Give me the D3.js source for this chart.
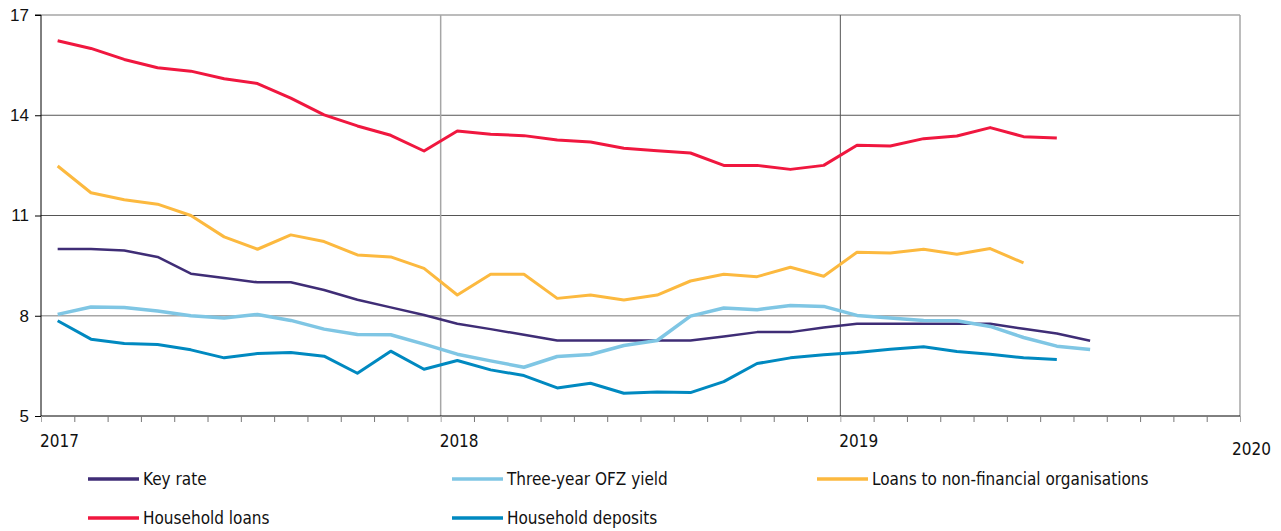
<!DOCTYPE html>
<html>
<head>
<meta charset="utf-8">
<script src="https://cdn.jsdelivr.net/npm/d3@7.9.0/dist/d3.min.js"></script>
<style>
  body { margin: 0; background: #fff; }
  svg { display: block; font-family: "Liberation Sans Narrow", "DejaVu Sans Condensed", sans-serif; }
</style>
</head>
<body>
<svg id="chart" width="1281" height="531"></svg>
<script>
// monthly values, Jan 2017 onwards (mid-month points)
const keyRate = [10.0, 10.0, 9.95, 9.76, 9.26, 9.13, 9.0, 9.0, 8.77, 8.48, 8.25, 8.02,
  7.76, 7.6, 7.43, 7.26, 7.26, 7.26, 7.26, 7.26, 7.38, 7.51, 7.51, 7.65,
  7.76, 7.76, 7.76, 7.76, 7.76, 7.61, 7.47, 7.25];
const ofzYield = [8.04, 8.26, 8.25, 8.14, 8.0, 7.93, 8.04, 7.86, 7.6, 7.44, 7.43, 7.15,
  6.85, 6.65, 6.46, 6.78, 6.84, 7.11, 7.26, 7.99, 8.23, 8.18, 8.31, 8.28,
  8.01, 7.93, 7.86, 7.85, 7.68, 7.35, 7.09, 6.99];
const nfoLoans = [12.48, 11.68, 11.47, 11.34, 11.0, 10.36, 9.99, 10.42, 10.22, 9.82, 9.76, 9.42,
  8.62, 9.24, 9.24, 8.52, 8.62, 8.47, 8.62, 9.04, 9.24, 9.17, 9.45, 9.18,
  9.9, 9.88, 9.99, 9.84, 10.01, 9.58];
const householdLoans = [16.23, 16.0, 15.67, 15.42, 15.32, 15.09, 14.95, 14.51, 14.01, 13.68, 13.4, 12.93,
  13.53, 13.43, 13.39, 13.26, 13.2, 13.01, 12.94, 12.87, 12.5, 12.5, 12.38, 12.5,
  13.1, 13.08, 13.3, 13.38, 13.63, 13.36, 13.32];
const householdDeposits = [7.85, 7.3, 7.17, 7.14, 6.98, 6.74, 6.87, 6.9, 6.79, 6.28, 6.94, 6.4,
  6.66, 6.38, 6.21, 5.84, 5.98, 5.68, 5.72, 5.7, 6.03, 6.57, 6.74, 6.83,
  6.9, 7.0, 7.07, 6.93, 6.85, 6.74, 6.69];

const yTicks = [5, 8, 11, 14, 17];
const years = [2017, 2018, 2019, 2020];

const series = [
  { name: 'Key rate', values: keyRate, color: '#3f2d76', width: 2.5 },
  { name: 'Three-year OFZ yield', values: ofzYield, color: '#7fc6e4', width: 3.5 },
  { name: 'Loans to non-financial organisations', values: nfoLoans, color: '#fcb93f', width: 3 },
  { name: 'Household loans', values: householdLoans, color: '#f0173f', width: 3 },
  { name: 'Household deposits', values: householdDeposits, color: '#0089c0', width: 3 },
];

const svg = d3.select('#chart');
const area = { left: 41, right: 1240, top: 15, bottom: 416 };

// x in months since Jan 2017
const x = d3.scaleLinear().domain([0, 36]).range([area.left, area.right]);
const y = d3.scaleLinear().domain([5, 17]).range([area.bottom, area.top]);

// horizontal gridlines
svg.append('g')
  .selectAll('line')
  .data(yTicks.filter(d => d > 5))
  .join('line')
  .attr('x1', area.left).attr('x2', area.right)
  .attr('y1', d => y(d)).attr('y2', d => y(d))
  .attr('stroke', d => (d === 17 || d === 8) ? '#a6a6a6' : '#555')
  .attr('stroke-width', d => (d === 17 || d === 8) ? 1.5 : 1);

// vertical year lines
svg.append('g')
  .selectAll('line')
  .data([12, 24, 36])
  .join('line')
  .attr('x1', d => x(d)).attr('x2', d => x(d))
  .attr('y1', area.top).attr('y2', area.bottom)
  .attr('stroke', d => d === 24 ? '#555' : '#a6a6a6')
  .attr('stroke-width', d => d === 24 ? 1 : 1.5);

// left axis
svg.append('g')
  .attr('transform', `translate(${area.left},0)`)
  .call(d3.axisLeft(y).tickValues(yTicks).tickSize(6).tickPadding(6).tickFormat(d3.format('d')))
  .call(g => g.select('.domain').attr('stroke', '#000').attr('d', `M-6,${area.top}H0V${area.bottom}`))
  .call(g => g.selectAll('.tick line').attr('stroke', '#000'))
  .call(g => g.selectAll('.tick text').attr('font-size', 17).attr('fill', '#111')
    .attr('font-family', '"Liberation Sans Narrow", sans-serif'));

// bottom axis with monthly ticks
svg.append('g')
  .attr('transform', `translate(0,${area.bottom})`)
  .call(d3.axisBottom(x).tickValues(d3.range(0, 37)).tickSize(6).tickFormat(''))
  .call(g => g.select('.domain').attr('stroke', '#000').attr('d', `M${area.left},0H${area.right}`))
  .call(g => g.selectAll('.tick line').attr('stroke', d => d % 12 === 0 ? '#a6a6a6' : '#777'));

svg.append('g')
  .selectAll('text')
  .data(years)
  .join('text')
  .attr('x', (d, i) => i < 3 ? x(i * 12) - 1 : x(i * 12) + 31)
  .attr('y', (d, i) => i < 3 ? 447 : 455)
  .attr('text-anchor', (d, i) => i < 3 ? 'start' : 'end')
  .attr('font-size', 17)
  .attr('fill', '#111')
  .text(d => d);

// series lines
const line = d3.line()
  .x((d, i) => x(i + 0.5))
  .y(d => y(d));

svg.append('g')
  .selectAll('path')
  .data(series)
  .join('path')
  .attr('d', d => line(d.values))
  .attr('fill', 'none')
  .attr('stroke', d => d.color)
  .attr('stroke-width', d => d.width)
  .attr('stroke-linejoin', 'round');

// legend
const legendPos = [[88, 479], [452, 479], [817, 479], [88, 518], [452, 518]];
const legend = svg.append('g')
  .selectAll('g')
  .data(series)
  .join('g')
  .attr('transform', (d, i) => `translate(${legendPos[i][0]},${legendPos[i][1]})`);

legend.append('line')
  .attr('x1', 0).attr('x2', 51)
  .attr('stroke', d => d.color)
  .attr('stroke-width', 3.5);

legend.append('text')
  .attr('x', 55)
  .attr('dy', '0.35em')
  .attr('font-size', 17)
  .attr('fill', '#111')
  .text(d => d.name);
</script>
</body>
</html>
